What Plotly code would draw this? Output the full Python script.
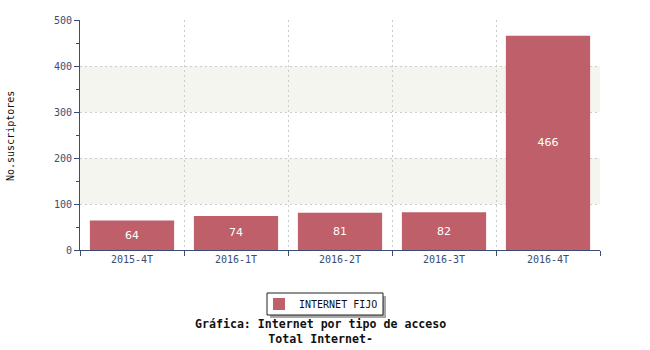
import plotly.graph_objects as go

categories = ["2015-4T", "2016-1T", "2016-2T", "2016-3T", "2016-4T"]
values = [64, 74, 81, 82, 466]
series_name = "INTERNET FIJO"
y_ticks = [0, 100, 200, 300, 400, 500]
title_lines = ["Gráfica: Internet por tipo de acceso", "Total Internet-"]
y_title = "No.suscriptores"

BAR = "#bf5f69"
AXIS = "#3d4c73"
FONT = "DejaVu Sans Mono"
GRID_DASH = "2px,3px"

L, R, T, B = 80, 50, 20, 100
W, H = 650, 350
PW, PH = W - L - R, H - T - B

def px_x(x):
    return (x - L) / PW

def px_y(y):
    return (H - B - y) / PH

fig = go.Figure()
fig.add_trace(go.Bar(
    x=categories, y=values, name=series_name,
    marker=dict(color=BAR, line=dict(width=0)),
    width=0.81,
    text=[str(v) for v in values], textposition="inside",
    insidetextanchor="middle",
    textfont=dict(color="white", size=11, family="DejaVu Sans"),
    showlegend=True,
))

shapes = []
# alternating bands
for i in range(len(y_ticks) - 1):
    if i % 2 == 1:
        shapes.append(dict(type="rect", xref="paper", yref="y", x0=0, x1=1,
                           y0=y_ticks[i], y1=y_ticks[i + 1],
                           fillcolor="#f5f5f0", line=dict(width=0), layer="below"))
# legend shadow and box
shapes.append(dict(type="rect", xref="paper", yref="paper",
                   x0=px_x(270), x1=px_x(386), y0=px_y(318), y1=px_y(296),
                   fillcolor="#a8a8a8", line=dict(width=0), layer="below"))
shapes.append(dict(type="rect", xref="paper", yref="paper",
                   x0=px_x(267), x1=px_x(383), y0=px_y(315), y1=px_y(293),
                   fillcolor="white", line=dict(width=1, color="#222222"), layer="below"))

fig.update_layout(
    width=W, height=H,
    margin=dict(l=L, r=R, t=T, b=B, autoexpand=False),
    paper_bgcolor="white", plot_bgcolor="rgba(0,0,0,0)",
    font=dict(family=FONT, size=10, color=AXIS),
    bargap=0.19,
    shapes=shapes,
    showlegend=True,
    legend=dict(
        orientation="h", x=px_x(321), xanchor="center",
        y=px_y(304), yanchor="middle",
        bgcolor="rgba(0,0,0,0)", borderwidth=0,
        font=dict(family=FONT, size=10, color="#111111"),
    ),
    annotations=[
        dict(
            text="<b>" + title_lines[0] + "</b><br><b>" + title_lines[1] + "</b>",
            xref="paper", yref="paper", x=px_x(320), y=px_y(331),
            xanchor="center", yanchor="middle", showarrow=False,
            font=dict(family=FONT, size=11.6, color="#111111"),
        ),
        dict(
            text=y_title, textangle=-90,
            xref="paper", yref="paper", x=px_x(10), y=px_y(136),
            xanchor="center", yanchor="middle", showarrow=False,
            font=dict(family=FONT, size=10, color="#111111"),
        ),
    ],
)

fig.update_xaxes(
    type="category", tickson="boundaries", automargin=False,
    showline=True, linecolor=AXIS, linewidth=1,
    ticks="outside", ticklen=5, tickcolor=AXIS,
    showgrid=True, gridcolor="#cccccc", griddash=GRID_DASH, gridwidth=1,
    tickfont=dict(family=FONT, size=10, color=AXIS),
    range=[-0.5, len(categories) - 0.5],
)
fig.update_yaxes(
    range=[0, 500], tickvals=y_ticks, automargin=False,
    showline=True, linecolor=AXIS, linewidth=1,
    ticks="outside", ticklen=5, tickcolor=AXIS,
    minor=dict(dtick=50, ticks="outside", ticklen=3, tickcolor=AXIS, showgrid=False),
    showgrid=True, gridcolor="#cccccc", griddash=GRID_DASH, gridwidth=1,
    zeroline=False,
    tickfont=dict(family=FONT, size=10, color=AXIS),
)

fig.write_html("out.html")
